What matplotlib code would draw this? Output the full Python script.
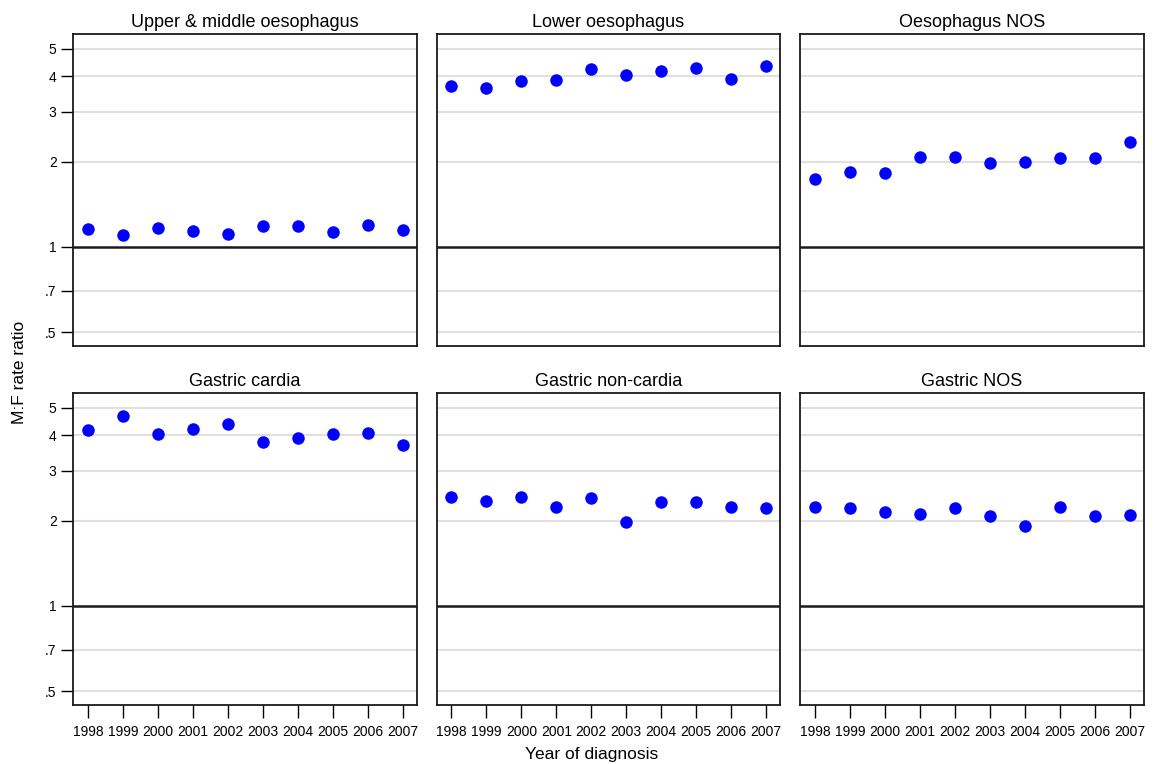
import numpy as np
import matplotlib
matplotlib.use("Agg")
import matplotlib.pyplot as plt

plt.rcParams['font.family'] = ['Liberation Sans', 'DejaVu Sans']

years = [1998, 1999, 2000, 2001, 2002, 2003, 2004, 2005, 2006, 2007]

sites = [
    "Upper & middle oesophagus",
    "Lower oesophagus",
    "Oesophagus NOS",
    "Gastric cardia",
    "Gastric non-cardia",
    "Gastric NOS",
]

upper_middle = [1.16, 1.10, 1.17, 1.14, 1.11, 1.18, 1.18, 1.13, 1.19, 1.15]
lower_oes = [3.71, 3.63, 3.86, 3.89, 4.25, 4.04, 4.18, 4.29, 3.92, 4.34]
oes_nos = [1.74, 1.84, 1.82, 2.08, 2.08, 1.97, 2.00, 2.06, 2.06, 2.35]
cardia = [4.19, 4.69, 4.04, 4.22, 4.40, 3.80, 3.91, 4.04, 4.07, 3.69]
non_cardia = [2.42, 2.35, 2.42, 2.24, 2.40, 1.98, 2.33, 2.33, 2.24, 2.22]
gastric_nos = [2.24, 2.22, 2.15, 2.11, 2.22, 2.08, 1.92, 2.24, 2.07, 2.09]

series = [upper_middle, lower_oes, oes_nos, cardia, non_cardia, gastric_nos]

ytick_vals = [0.5, 0.7, 1, 2, 3, 4, 5]
ytick_labels = [".5", ".7", "1", "2", "3", "4", "5"]

W, H = 1156, 764
fig = plt.figure(figsize=(W / 100, H / 100), dpi=100)

col_left = [73.3, 436.7, 800.3]
row_top = [33.7, 392.7]
ax_w, ax_h = 343.4, 312.7

for i, (name, vals) in enumerate(zip(sites, series)):
    r, c = divmod(i, 3)
    left = col_left[c] / W
    bottom = 1 - (row_top[r] + ax_h) / H
    ax = fig.add_axes([left, bottom, ax_w / W, ax_h / H])
    ax.set_yscale('log')
    ax.set_ylim(0.445, 5.66)
    ax.set_xlim(1997.58, 2007.4)
    for v in ytick_vals:
        if v == 1:
            ax.axhline(v, color='#1a1a1a', lw=1.8, zorder=1)
        else:
            ax.axhline(v, color='#e0e0e0', lw=1.5, zorder=0)
    ax.plot(years, vals, 'o', color='#0000ff', markersize=9, markeredgewidth=0, zorder=3)
    ax.set_title(name, fontsize=13, pad=5)
    ax.yaxis.set_minor_locator(matplotlib.ticker.NullLocator())
    ax.set_yticks(ytick_vals)
    ax.set_xticks(years)
    for s in ax.spines.values():
        s.set_linewidth(1.3)
        s.set_color('#1a1a1a')
    if c == 0:
        ax.set_yticklabels(ytick_labels)
        ax.tick_params(axis='y', length=9, width=1, pad=3, labelsize=10)
    else:
        ax.tick_params(axis='y', left=False, labelleft=False)
    if r == 1:
        ax.set_xticklabels([str(y) for y in years])
        ax.tick_params(axis='x', length=9, width=1, pad=5, labelsize=10)
    else:
        ax.tick_params(axis='x', bottom=False, labelbottom=False)

fig.text(20 / W, 1 - 372 / H, "M:F rate ratio", rotation=90, ha='center', va='center', fontsize=12.5)
fig.text(592 / W, 1 - 754 / H, "Year of diagnosis", ha='center', va='center', fontsize=12.5)

fig.savefig("out.png", dpi=100, facecolor='white')
